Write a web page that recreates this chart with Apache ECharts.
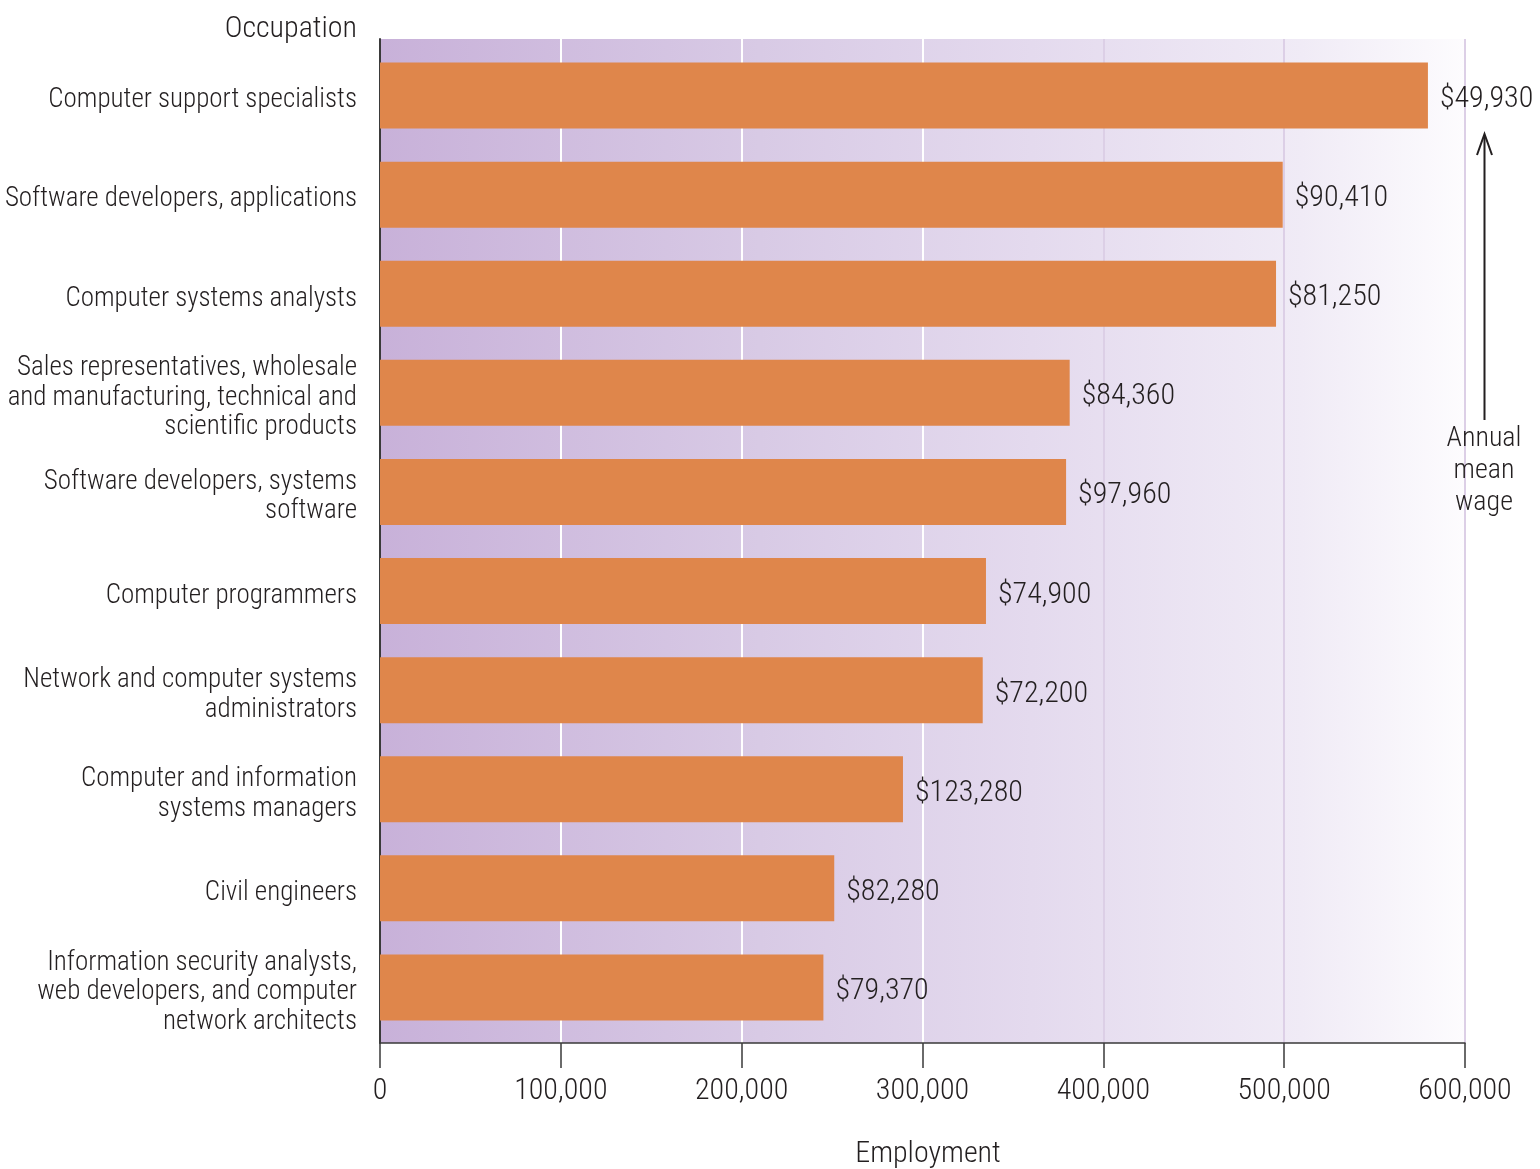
<!DOCTYPE html>
<html>
<head>
<meta charset="utf-8">
<title>Employment and annual mean wage by computer occupation</title>
<script src="https://cdn.jsdelivr.net/npm/echarts@6/dist/echarts.min.js"></script>
<style>
  html, body { margin: 0; padding: 0; background: #ffffff; }
  #chart { width: 1540px; height: 1169px; }
</style>
</head>
<body>
<div id="chart"></div>
<script>
// Occupations, top to bottom
const occupations = [
  'Computer support specialists',
  'Software developers, applications',
  'Computer systems analysts',
  'Sales representatives, wholesale\nand manufacturing, technical and\nscientific products',
  'Software developers, systems\nsoftware',
  'Computer programmers',
  'Network and computer systems\nadministrators',
  'Computer and information\nsystems managers',
  'Civil engineers',
  'Information security analysts,\nweb developers, and computer\nnetwork architects'
];

// Employment (number of jobs)
const employment = [579500, 499200, 495500, 381400, 379400, 335100, 333300, 289200, 251200, 245200];

// Annual mean wage shown beside each bar
const meanWage = ['$49,930', '$90,410', '$81,250', '$84,360', '$97,960', '$74,900', '$72,200', '$123,280', '$82,280', '$79,370'];

// Employment axis ticks
const employmentTicks = [0, 100000, 200000, 300000, 400000, 500000, 600000];

const INK = '#231f20';
const FONT = '"Roboto Condensed", "Open Sans Condensed", sans-serif';
const WEIGHT = 300;
const axisMin = employmentTicks[0];
const axisMax = employmentTicks[employmentTicks.length - 1];
const axisStep = employmentTicks[1] - employmentTicks[0];

// grid lines: white over the darker part, pale lilac over the lighter part
const gridLineColors = ['rgba(0,0,0,0)', '#ffffff', '#ffffff', '#ffffff', '#dccfe6', '#dccfe6', '#dccfe6'];

const hiddenAxis = {
  axisLine: { show: false }, axisTick: { show: false },
  axisLabel: { show: false }, splitLine: { show: false }
};

const chart = echarts.init(document.getElementById('chart'), null, { renderer: 'canvas' });

chart.setOption({
  animation: false,
  backgroundColor: '#ffffff',
  textStyle: { fontFamily: FONT, fontWeight: WEIGHT, color: INK },
  grid: [
    // bars
    { left: 380, width: 1085, top: 46, height: 991, outerBoundsMode: 'none', containLabel: false },
    // shaded panel, grid lines and employment axis
    {
      left: 380, width: 1085, top: 39, height: 1004, outerBoundsMode: 'none', containLabel: false,
      show: true, borderWidth: 0,
      backgroundColor: {
        type: 'linear', x: 0, y: 0, x2: 1, y2: 0,
        colorStops: [
          { offset: 0, color: '#c8b1d9' },
          { offset: 0.35, color: '#d8cae5' },
          { offset: 0.6, color: '#e4daee' },
          { offset: 0.85, color: '#f0ebf6' },
          { offset: 1, color: '#fdfcfe' }
        ]
      }
    },
    // occupation labels, set a little lower than the bar centres
    { left: 380, width: 1085, top: 51, height: 991, outerBoundsMode: 'none', containLabel: false }
  ],
  xAxis: [
    Object.assign({ gridIndex: 0, type: 'value', min: axisMin, max: axisMax, interval: axisStep }, hiddenAxis),
    {
      gridIndex: 1, type: 'value', min: axisMin, max: axisMax, interval: axisStep,
      position: 'bottom',
      axisLine: { show: true, lineStyle: { color: '#3a3a3a', width: 1.5 } },
      axisTick: { show: true, inside: false, length: 25, lineStyle: { color: '#3a3a3a', width: 1.5 } },
      axisLabel: {
        margin: 33, fontSize: 30, color: INK, fontFamily: FONT, fontWeight: WEIGHT,
        formatter: v => v.toLocaleString('en-US')
      },
      splitLine: { show: true, lineStyle: { color: gridLineColors, width: 2 } },
      name: 'Employment',
      nameLocation: 'middle',
      nameGap: 96,
      nameTextStyle: { fontSize: 30, color: INK, fontFamily: FONT, fontWeight: WEIGHT, padding: [0, 0, 0, 11] }
    },
    Object.assign({ gridIndex: 2, type: 'value', min: axisMin, max: axisMax, interval: axisStep }, hiddenAxis)
  ],
  yAxis: [
    Object.assign({ gridIndex: 0, type: 'category', data: occupations, inverse: true }, hiddenAxis),
    {
      gridIndex: 1, type: 'value', min: 0, max: 1,
      axisLine: { show: true, lineStyle: { color: '#3a3a3a', width: 2 } },
      axisTick: { show: false }, axisLabel: { show: false }, splitLine: { show: false }
    },
    {
      gridIndex: 2, type: 'category', data: occupations, inverse: true,
      axisLine: { show: false }, axisTick: { show: false }, splitLine: { show: false },
      axisLabel: {
        margin: 23, fontSize: 27, lineHeight: 29.5, color: INK, fontFamily: FONT, fontWeight: WEIGHT,
        align: 'right'
      }
    }
  ],
  series: [
    {
      type: 'bar',
      xAxisIndex: 0, yAxisIndex: 0,
      data: employment,
      barWidth: 66,
      itemStyle: { color: '#df864b' },
      label: {
        show: true, position: 'right', distance: 12, offset: [0, 4],
        fontSize: 30, color: INK, fontFamily: FONT, fontWeight: WEIGHT,
        formatter: p => meanWage[p.dataIndex]
      },
      z: 3
    }
  ],
  graphic: [
    {
      type: 'text', x: 357, y: 29, z: 10,
      style: {
        text: 'Occupation', fill: INK, font: WEIGHT + ' 30px ' + FONT,
        align: 'right', verticalAlign: 'middle'
      }
    },
    // arrow pointing up at the wage labels
    {
      type: 'line', z: 10,
      shape: { x1: 1484.5, y1: 420, x2: 1484.5, y2: 136 },
      style: { stroke: INK, lineWidth: 2 }
    },
    {
      type: 'polyline', z: 10,
      shape: { points: [[1477, 155], [1484.5, 134], [1492, 155]] },
      style: { stroke: INK, lineWidth: 2, fill: null }
    },
    {
      type: 'text', x: 1484, y: 471, z: 10,
      style: {
        text: 'Annual\nmean\nwage', fill: INK, font: WEIGHT + ' 28px ' + FONT,
        align: 'center', verticalAlign: 'middle', lineHeight: 32
      }
    }
  ]
});
</script>
</body>
</html>
